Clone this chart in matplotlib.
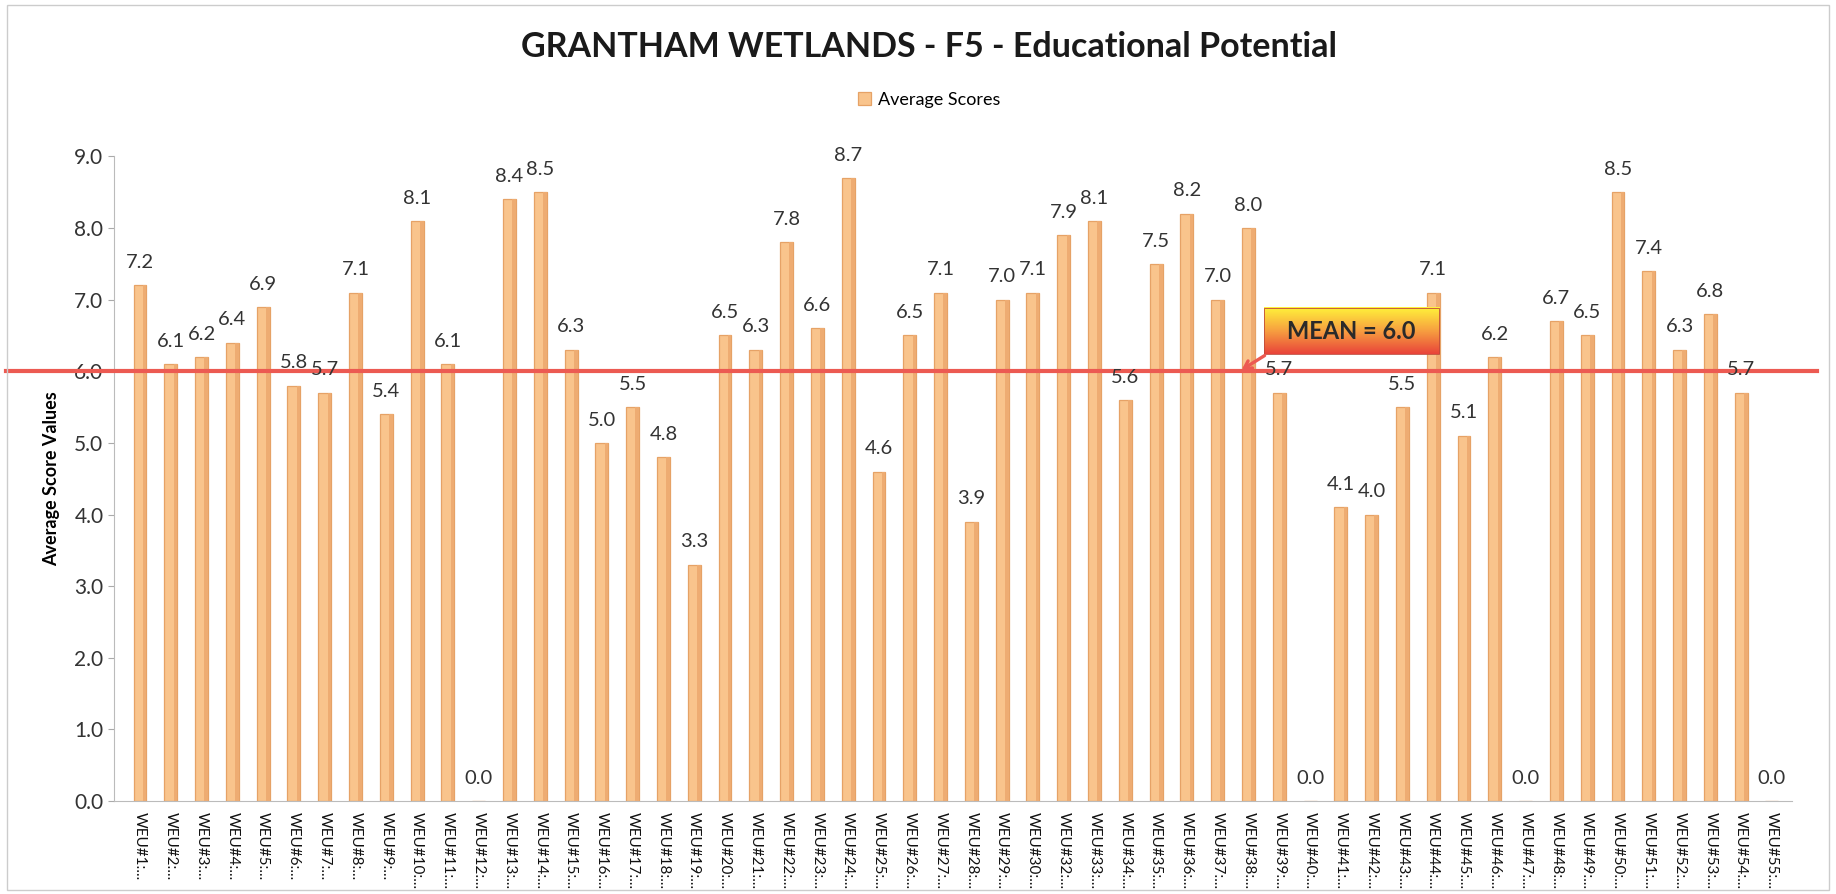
import numpy as np
import matplotlib.pyplot as plt
from matplotlib.patches import Rectangle
from matplotlib.colors import LinearSegmentedColormap

# site codes (no #31 in the source)
sites = list(range(1, 31)) + list(range(32, 56))
labels = ["WEU#%d:..." % s for s in sites]
scores = [7.2, 6.1, 6.2, 6.4, 6.9, 5.8, 5.7, 7.1, 5.4, 8.1,
          6.1, 0.0, 8.4, 8.5, 6.3, 5.0, 5.5, 4.8, 3.3, 6.5,
          6.3, 7.8, 6.6, 8.7, 4.6, 6.5, 7.1, 3.9, 7.0, 7.1,
          7.9, 8.1, 5.6, 7.5, 8.2, 7.0, 8.0, 5.7, 0.0, 4.1,
          4.0, 5.5, 7.1, 5.1, 6.2, 0.0, 6.7, 6.5, 8.5, 7.4,
          6.3, 6.8, 5.7, 0.0]
mean_value = 6.0

plt.rcParams['font.family'] = ['Lato', 'DejaVu Sans']

fig = plt.figure(figsize=(18.36, 8.94), dpi=100)
ax = fig.add_axes([0.062, 0.104, 0.914, 0.721])

x = np.arange(len(scores))
bars = ax.bar(x, scores, width=0.42, color='#f9c48c', edgecolor='#e6a266',
              linewidth=0.9, label='Average Scores', zorder=2)
# darker right face to fake the 3D look
ax.bar(x + 0.15, scores, width=0.12, color='#eeac72', linewidth=0, zorder=2)

for xi, v in zip(x, scores):
    ax.text(xi, v + 0.2, "%.1f" % v, ha='center', va='bottom', fontsize=14.5,
            color='#333333', zorder=4)

ax.set_ylim(0, 9)
ax.set_xlim(-0.85, len(scores) - 0.35)
ax.set_yticks(np.arange(0, 9.5, 1.0))
ax.set_yticklabels(["%.1f" % t for t in np.arange(0, 9.5, 1.0)], fontsize=15, color='#333333')
ax.set_xticks(x)
ax.set_xticklabels(labels, rotation=270, fontsize=11, color='#111111')
ax.tick_params(axis='x', length=0, pad=8)
ax.tick_params(axis='y', length=4, color='#aaaaaa')
for s in ['top', 'right']:
    ax.spines[s].set_visible(False)
ax.spines['left'].set_color('#bbbbbb')
ax.spines['bottom'].set_color('#bbbbbb')
ax.set_ylabel('Average Score Values', fontsize=13, fontweight='bold', labelpad=10)

# mean line runs past the plot area
ax.plot([-0.064, 1.015], [mean_value, mean_value], color='#ec5a52', linewidth=3.0,
        transform=ax.get_yaxis_transform(), clip_on=False, zorder=3)

# gradient callout box
grad = np.linspace(0, 1, 100).reshape(-1, 1)
cmap = LinearSegmentedColormap.from_list('mean', ['#fff23a', '#f7a040', '#e9443a'])
ax.imshow(grad, cmap=cmap, aspect='auto', extent=(36.5, 42.2, 6.24, 6.89),
          origin='upper', zorder=5)
ax.add_patch(Rectangle((36.5, 6.24), 5.7, 0.65, fill=False, edgecolor='#c04a3a',
                       linewidth=0.6, zorder=6))
ax.text(39.35, 6.56, 'MEAN = 6.0', ha='center', va='center', fontsize=17,
        fontweight='bold', color='#2a2a2a', zorder=7)
ax.annotate('', xy=(35.7, 6.0), xytext=(36.6, 6.24),
            arrowprops=dict(arrowstyle='->,head_length=0.5,head_width=0.3',
                            color='#ec5a52', lw=2.4), zorder=7)
ax.set_xlim(-0.85, len(scores) - 0.35)
ax.set_ylim(0, 9)

fig.text(0.506, 0.947, 'GRANTHAM WETLANDS - F5 - Educational Potential',
         ha='center', va='center', fontsize=24.5, fontweight='bold', color='#1a1a1a')
fig.legend(handles=[bars], labels=['Average Scores'], loc='center',
           bbox_to_anchor=(0.506, 0.888), frameon=False, fontsize=13,
           handlelength=0.7, handleheight=0.7, handletextpad=0.4)

fig.patches.append(Rectangle((0.004, 0.004), 0.992, 0.99, transform=fig.transFigure,
                             fill=False, edgecolor='#cccccc', linewidth=1.0))

fig.savefig('out.png', dpi=100)
